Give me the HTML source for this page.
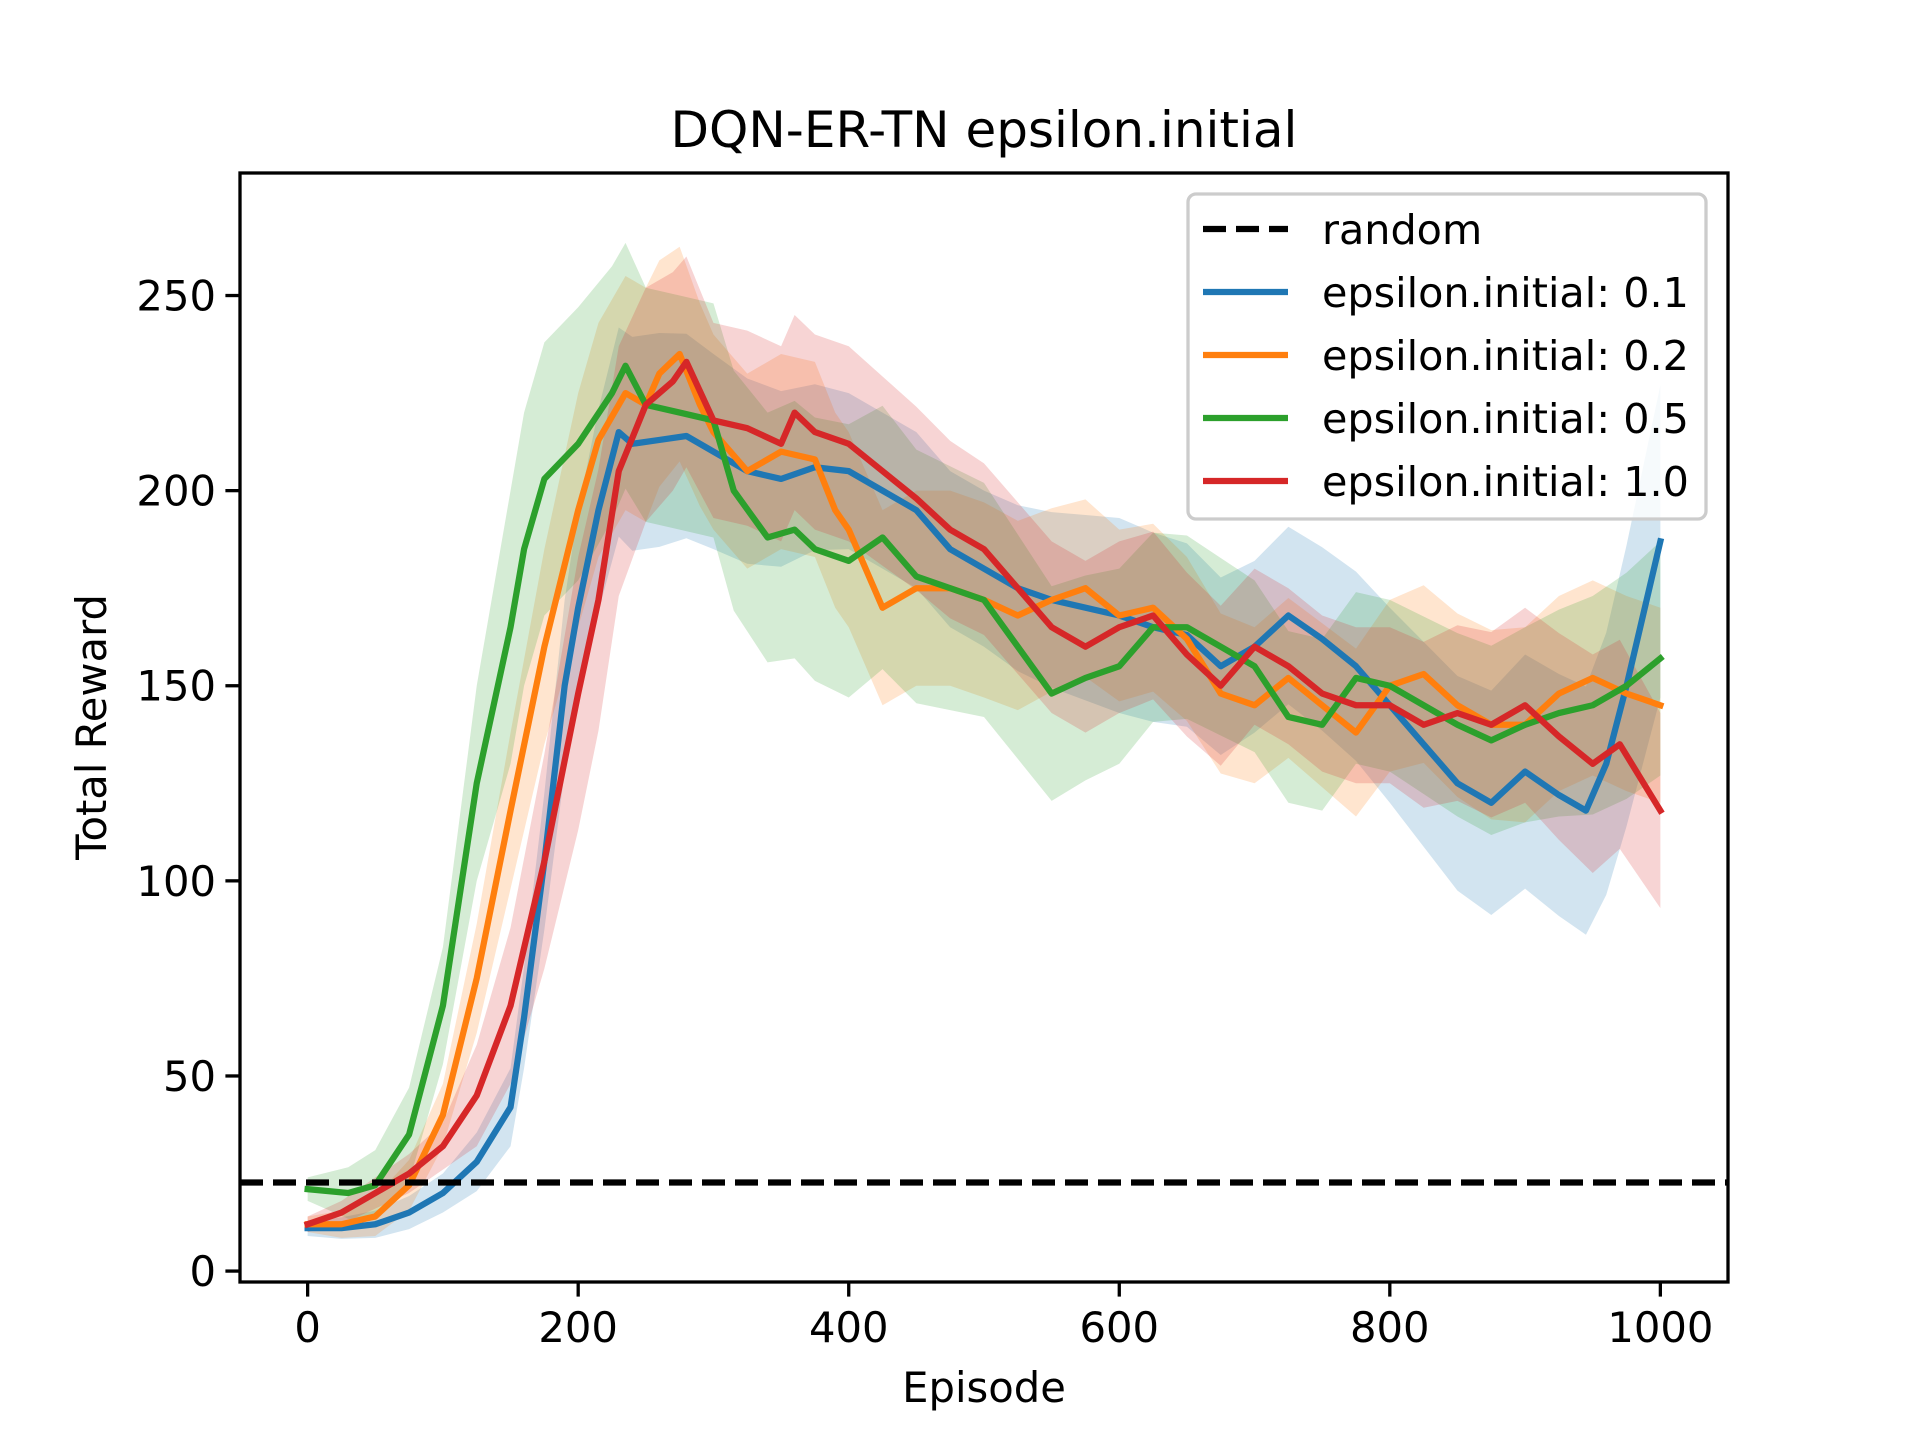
<!DOCTYPE html>
<html><head><meta charset="utf-8"><style>
html,body{margin:0;padding:0;background:#fff;}
svg{display:block;font-family:"DejaVu Sans","Liberation Sans",sans-serif;}
</style></head><body>
<svg id="chart" width="1920" height="1440" viewBox="0 0 1920 1440" xmlns="http://www.w3.org/2000/svg">
<rect width="1920" height="1440" fill="#fff"/>
<text x="984" y="147" font-size="50" text-anchor="middle">DQN-ER-TN epsilon.initial</text>
<g id="bands"></g><g id="lines"></g><g id="axes"></g><g id="legend"></g>
<text x="984" y="1402" font-size="41.7" text-anchor="middle">Episode</text>
<text transform="translate(106,727) rotate(-90)" font-size="41.7" text-anchor="middle">Total Reward</text>
</svg>
<script>
const randomLevel = 22.7;
const blueX = [0,25,50,75,100,125,150,160,175,190,200,215,230,240,260,280,300,325,350,375,400,425,450,475,500,525,550,575,600,625,650,675,700,725,750,775,800,825,850,875,900,925,945,960,975,1000];
const blueY = [11,11,12,15,20,28,42,65,105,150,170,195,215,212,213,214,210,205,203,206,205,200,195,185,180,175,172,170,168,165,163,155,160,168,162,155,145,135,125,120,128,122,118,130,150,187];
const orangeX = [0,25,50,75,100,125,150,175,200,215,235,250,260,275,290,300,325,350,375,390,400,425,450,475,500,525,550,575,600,625,650,675,700,725,750,775,800,825,850,875,900,925,950,975,1000];
const orangeY = [12,12,14,22,40,75,118,160,195,213,225,222,230,235,222,215,205,210,208,195,190,170,175,175,172,168,172,175,168,170,162,148,145,152,145,138,150,153,145,140,140,148,152,148,145];
const greenX = [0,30,50,75,100,125,150,160,175,200,225,235,250,275,300,315,340,360,375,400,425,450,475,500,525,550,575,600,625,650,675,700,725,750,775,800,825,850,875,900,925,950,975,1000];
const greenY = [21,20,22,35,68,125,165,185,203,212,225,232,222,220,218,200,188,190,185,182,188,178,175,172,160,148,152,155,165,165,160,155,142,140,152,150,145,140,136,140,143,145,150,157];
const redX = [0,25,50,75,100,125,150,175,200,215,230,250,270,280,300,325,350,360,375,400,425,450,475,500,525,550,575,600,625,650,675,700,725,750,775,800,825,850,875,900,925,950,970,1000];
const redY = [12,15,20,25,32,45,68,105,148,172,205,222,228,233,218,216,212,220,215,212,205,198,190,185,175,165,160,165,168,158,150,160,155,148,145,145,140,143,140,145,137,130,135,118];
const spreadX = [0,100,150,200,250,300,400,500,600,700,800,900,950,1000];
const blueSpread = [2,5,10,25,28,25,20,20,25,22,25,30,32,40];
const orangeSpread = [2,8,20,30,30,25,25,25,22,20,22,25,25,25];
const greenSpread = [3,15,35,35,30,30,35,30,25,22,22,25,28,30];
const redSpread = [2,6,20,35,30,25,25,22,22,20,20,25,28,25];
const xTicks = [0,200,400,600,800,1000];
const yTicks = [0,50,100,150,200,250];
const legendLabels = ["random","epsilon.initial: 0.1","epsilon.initial: 0.2","epsilon.initial: 0.5","epsilon.initial: 1.0"];

const L=240,R=1728,T=173,B=1282, X0=-50,X1=1050, Y0=-2.8,Y1=281.4;
const sx=v=>L+(v-X0)/(X1-X0)*(R-L);
const sy=v=>B-(v-Y0)/(Y1-Y0)*(B-T);
const NS="http://www.w3.org/2000/svg";
function mk(t,a,p){const e=document.createElementNS(NS,t);for(const k in a)e.setAttribute(k,a[k]);p.appendChild(e);return e;}
function interp(xs,ys,x){if(x<=xs[0])return ys[0];for(let i=1;i<xs.length;i++){if(x<=xs[i]){const t=(x-xs[i-1])/(xs[i]-xs[i-1]);return ys[i-1]+t*(ys[i]-ys[i-1]);}}return ys[ys.length-1];}
const series=[
 {n:"eps-0.1",c:"#1f77b4",x:blueX,y:blueY,s:blueSpread},
 {n:"eps-0.2",c:"#ff7f0e",x:orangeX,y:orangeY,s:orangeSpread},
 {n:"eps-0.5",c:"#2ca02c",x:greenX,y:greenY,s:greenSpread},
 {n:"eps-1.0",c:"#d62728",x:redX,y:redY,s:redSpread}];
const bandsG=document.getElementById('bands'),linesG=document.getElementById('lines');
series.forEach(s=>{
 let up=[],lo=[];
 s.x.forEach((x,i)=>{const sp=interp(spreadX,s.s,x);up.push(sx(x)+','+sy(s.y[i]+sp));lo.push(sx(x)+','+sy(s.y[i]-sp));});
 const b=mk('polygon',{points:up.concat(lo.reverse()).join(' '),fill:s.c,'fill-opacity':0.2,stroke:'none'},bandsG);
 
 
 const l=mk('polyline',{points:s.x.map((x,i)=>sx(x)+','+sy(s.y[i])).join(' '),fill:'none',stroke:s.c,'stroke-width':6.25,'stroke-linejoin':'round','stroke-linecap':'square'},linesG);
 
 
});
const rl=mk('line',{x1:L,x2:R,y1:sy(randomLevel),y2:sy(randomLevel),stroke:'#000','stroke-width':6.25,'stroke-dasharray':'23 10'},linesG);


const ax=document.getElementById('axes');
const fr=mk('rect',{x:L,y:T,width:R-L,height:B-T,fill:'none',stroke:'#000','stroke-width':3.3},ax);


xTicks.forEach(v=>{
 const t=mk('line',{x1:sx(v),x2:sx(v),y1:B,y2:B+14.6,stroke:'#000','stroke-width':3.3},ax);
 
 
 const tx=mk('text',{x:sx(v),y:B+60,'font-size':41.7,'text-anchor':'middle'},ax);tx.textContent=v;
 
 
});
yTicks.forEach(v=>{
 const t=mk('line',{x1:L-14.6,x2:L,y1:sy(v),y2:sy(v),stroke:'#000','stroke-width':3.3},ax);
 
 
 const tx=mk('text',{x:L-24,y:sy(v)+15,'font-size':41.7,'text-anchor':'end'},ax);tx.textContent=v;
 
 
});
const lg=document.getElementById('legend');
const box=mk('rect',{x:1188,y:194,width:518,height:325,rx:8,fill:'#fff','fill-opacity':0.8,stroke:'#ccc','stroke-width':3.3},lg);


const cols=['#000','#1f77b4','#ff7f0e','#2ca02c','#d62728'];
legendLabels.forEach((lab,i)=>{
 const y=229+i*63;
 const ln=mk('line',{x1:1203,x2:1288,y1:y,y2:y,stroke:cols[i],'stroke-width':6.25},lg);
 if(i===0)ln.setAttribute('stroke-dasharray','23 10');
 
 
 const t=mk('text',{x:1322,y:y+15,'font-size':41.3},lg);t.textContent=lab;
 
 
});
</script>
</body></html>
